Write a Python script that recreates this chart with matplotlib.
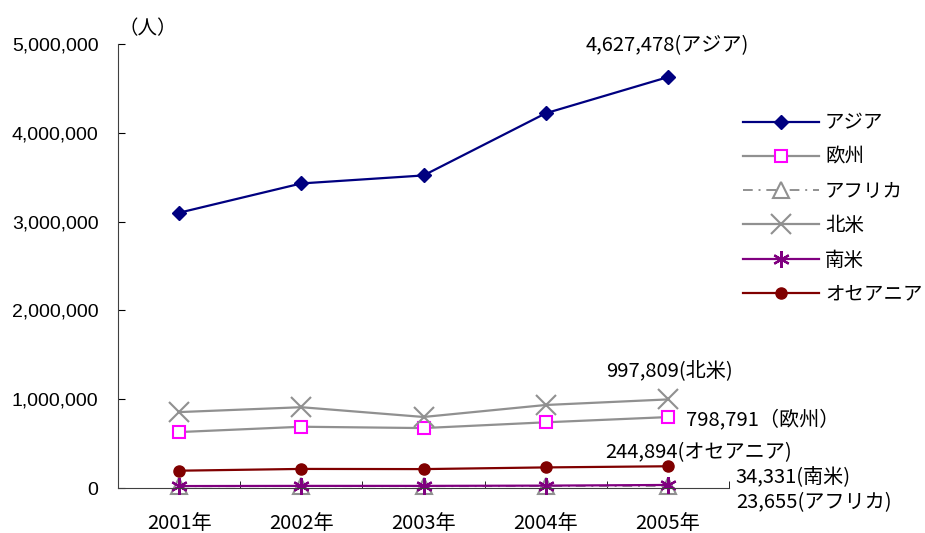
import matplotlib
matplotlib.use("Agg")
import matplotlib.pyplot as plt
import numpy as np

plt.rcParams['font.family'] = ['Noto Sans CJK JP', 'DejaVu Sans']

years = ['2001年', '2002年', '2003年', '2004年', '2005年']
asia = [3100000, 3430000, 3520000, 4220000, 4627478]
europe = [630000, 690000, 675000, 740000, 798791]
africa = [21000, 22000, 21000, 22500, 23655]
namerica = [855000, 910000, 800000, 935000, 997809]
samerica = [22000, 24000, 24000, 27000, 34331]
oceania = [195000, 215000, 213000, 232000, 244894]

fg = plt.figure(figsize=(9.25, 5.33), dpi=100)
ax = fg.add_axes([0.1276, 0.0844, 0.6605, 0.833])
x = np.arange(len(years))

ax.plot(x, asia, color='#000080', marker='D', ms=7, lw=1.6, label='アジア', clip_on=False)
ax.plot(x, europe, color='#909090', marker='s', ms=8, mfc='white', mec='#ff00ff', mew=1.5, lw=1.6, label='欧州')
ax.plot(x, africa, color='#909090', ls=(0, (5, 3, 1, 3)), marker='^', ms=11, mfc='white', mec='#909090', mew=1.5, lw=1.4, label='アフリカ', clip_on=False)
ax.plot(x, namerica, color='#909090', marker='x', ms=14, mew=1.5, lw=1.6, label='北米')
ax.plot(x, samerica, color='#800080', marker=(6, 2, 0), ms=12, mew=1.6, lw=1.6, label='南米', clip_on=False)
ax.plot(x, oceania, color='#800000', marker='o', ms=8, lw=1.6, label='オセアニア')

ax.set_xlim(-0.5, 4.5)
ax.set_ylim(0, 5000000)
ax.set_yticks(np.arange(0, 5000001, 1000000))
ax.set_yticklabels(['{:,}'.format(v) for v in range(0, 5000001, 1000000)],
                   family=['Liberation Sans'], fontsize=14)
ax.set_xticks(x)
ax.set_xticklabels(years, fontsize=14.5)
ax.set_xticks(np.arange(-0.5, 5, 1), minor=True)
ax.tick_params(axis='x', which='major', length=0, pad=18)
ax.tick_params(axis='x', which='minor', length=5, direction='in')
ax.tick_params(axis='y', length=5, direction='in', pad=14)
for s in ['top', 'right']:
    ax.spines[s].set_visible(False)
ax.spines['left'].set_color('#404040')
ax.spines['bottom'].set_color('#404040')

ax.text(0.0, 1.01, '（人）', transform=ax.transAxes, fontsize=14, va='bottom')

labs = [(asia, '4,627,478(アジア)', (-82, 31)),
        (namerica, '997,809(北米)', (-62, 29)),
        (europe, '798,791（欧州）', (18, -3)),
        (oceania, '244,894(オセアニア)', (-63, 14)),
        (samerica, '34,331(南米)', (68, 7)),
        (africa, '23,655(アフリカ)', (68, -17))]
for d, t, off in labs:
    ax.annotate(t, xy=(4, d[4]), xytext=off, textcoords='offset pixels',
                fontsize=14.5, va='center', ha='left')

ax.legend(loc='upper left', bbox_to_anchor=(0.995, 0.885), frameon=False,
          fontsize=14, handlelength=3.9, labelspacing=0.68, handletextpad=0.3)

fg.savefig('out.png', dpi=100)
